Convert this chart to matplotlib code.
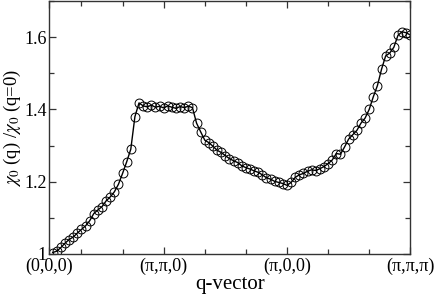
import numpy as np
import matplotlib
matplotlib.use("Agg")
import matplotlib.pyplot as plt
from matplotlib.ticker import MultipleLocator, FuncFormatter
from matplotlib.transforms import ScaledTranslation


# q-path sampling: 30 points per segment, first few points fall before the axis start
q = np.arange(3, 91) / 30.0

chi_ratio = [
    # (0,0,0) -> (pi,pi,0)
    1.004, 1.008, 1.018, 1.030, 1.040, 1.047, 1.058, 1.068, 1.078, 1.092,
    1.112, 1.122, 1.131, 1.147, 1.158, 1.172, 1.193, 1.223, 1.255, 1.290,
    1.380, 1.418,
    # plateau and drop towards (pi,0,0)
    1.410, 1.407, 1.412, 1.406, 1.409, 1.404, 1.410, 1.406, 1.403, 1.408,
    1.405, 1.409, 1.405, 1.362, 1.338, 1.315, 1.308, 1.298, 1.287, 1.281,
    1.272, 1.264, 1.258, 1.253, 1.244, 1.239, 1.235, 1.230, 1.226, 1.219,
    1.211, 1.207, 1.201, 1.198, 1.195, 1.190,
    # (pi,0,0) -> (pi,pi,pi)
    1.198, 1.212, 1.219, 1.223, 1.229, 1.233, 1.231, 1.236, 1.242, 1.250,
    1.260, 1.278, 1.276, 1.296, 1.318, 1.330, 1.342, 1.362, 1.376, 1.400,
    1.435, 1.466, 1.511, 1.548, 1.556, 1.572, 1.605, 1.615, 1.612, 1.606,
]

x_start = 0.07
tick_pos = [x_start, 1, 2, 3]
tick_labels = ["(0,0,0)", "(\u03c0,\u03c0,0)", "(\u03c0,0,0)", "(\u03c0,\u03c0,\u03c0)"]

plt.rcParams["font.family"] = "Liberation Serif"
plt.rcParams["mathtext.fontset"] = "stix"

fig = plt.figure(figsize=(4.36, 2.96), dpi=100)
ax = fig.add_axes([49 / 436, 42 / 296, 361.3 / 436, 253 / 296])

ax.plot(q, chi_ratio, "-", color="black", lw=1.0,
        marker="o", ms=6.4, mfc="none", mec="black", mew=0.7)

ax.set_xlim(x_start, 3)
ax.set_ylim(1.0, 1.7)

ax.set_xticks(tick_pos)
ax.set_xticklabels(tick_labels)
ax.xaxis.set_minor_locator(MultipleLocator(1 / 3))
ax.yaxis.set_major_locator(MultipleLocator(0.2))
ax.yaxis.set_minor_locator(MultipleLocator(0.1))
ax.yaxis.set_major_formatter(FuncFormatter(lambda v, p: "%g" % round(v, 2)))

ax.tick_params(which="both", direction="in", top=True, right=True,
               labelsize=13, color="#333333")
ax.tick_params(which="major", length=5, width=0.9, pad=1.5)
ax.tick_params(axis="x", which="major", pad=2.5)
ax.tick_params(which="minor", length=3.5, width=0.9)
for s in ax.spines.values():
    s.set_linewidth(1.0)
    s.set_color("#333333")

# the bottom "1" sits just above the (0,0,0) label, nudge it up a touch
fig.canvas.draw()
lbl = ax.get_yticklabels()[0]
lbl.set_transform(lbl.get_transform() + ScaledTranslation(0, 2 / 100, fig.dpi_scale_trans))

ax.set_xlabel("q-vector", fontsize=15, labelpad=0)
ax.set_ylabel(r"$\chi_0$ (q) /$\chi_0$ (q=0)", fontsize=13.5, labelpad=1)

fig.savefig("out.png", dpi=100)
